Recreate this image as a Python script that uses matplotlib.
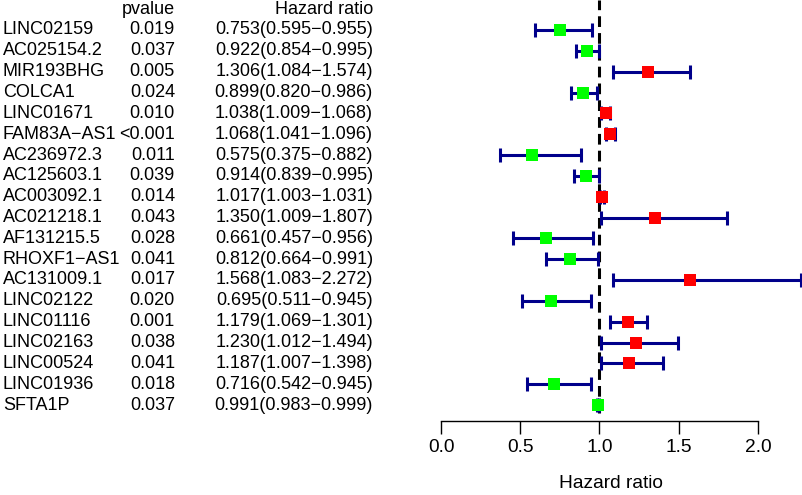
import numpy as np
import matplotlib.pyplot as plt
import matplotlib.transforms as mtransforms

plt.rcParams['font.family'] = ['Liberation Sans', 'DejaVu Sans']

genes = ['LINC02159', 'AC025154.2', 'MIR193BHG', 'COLCA1', 'LINC01671', 'FAM83A\u2212AS1',
         'AC236972.3', 'AC125603.1', 'AC003092.1', 'AC021218.1', 'AF131215.5', 'RHOXF1\u2212AS1',
         'AC131009.1', 'LINC02122', 'LINC01116', 'LINC02163', 'LINC00524', 'LINC01936', 'SFTA1P']
pvalues = ['0.019', '0.037', '0.005', '0.024', '0.010', '<0.001', '0.011', '0.039', '0.014',
           '0.043', '0.028', '0.041', '0.017', '0.020', '0.001', '0.038', '0.041', '0.018', '0.037']
hr = [0.753, 0.922, 1.306, 0.899, 1.038, 1.068, 0.575, 0.914, 1.017, 1.350,
      0.661, 0.812, 1.568, 0.695, 1.179, 1.230, 1.187, 0.716, 0.991]
lo = [0.595, 0.854, 1.084, 0.820, 1.009, 1.041, 0.375, 0.839, 1.003, 1.009,
      0.457, 0.664, 1.083, 0.511, 1.069, 1.012, 1.007, 0.542, 0.983]
hi = [0.955, 0.995, 1.574, 0.986, 1.068, 1.096, 0.882, 0.995, 1.031, 1.807,
      0.956, 0.991, 2.272, 0.945, 1.301, 1.494, 1.398, 0.945, 0.999]

n = len(genes)
ypos = np.arange(n, 0, -1)  # first gene on top

W, H = 803, 495
fig = plt.figure(figsize=(W / 100, H / 100), dpi=100)
# forest panel: x=0 at px 441, x=2 at px 758; rows 20.83 px apart
ax = fig.add_axes([420 / W, (H - 421) / H, (W - 420) / W, 421 / H])
ax.set_xlim(-0.1325, 2.284)
ax.set_ylim(0.232, 20.44)

ax.vlines(1, 0.6, 20.44, colors='black', linestyles=(0, (3.5, 2)), linewidth=2.2, zorder=1)

for y, h, l, u in zip(ypos, hr, lo, hi):
    ax.errorbar(h, y, xerr=[[h - l], [u - h]], fmt='none', ecolor='#00008B',
                elinewidth=2.2, capsize=5, capthick=2.2, zorder=2)
    col = '#FF0000' if h > 1 else '#00FF00'
    ax.plot(h, y, 's', color=col, markersize=9, markeredgewidth=0, zorder=3)

for s in ['top', 'right', 'left']:
    ax.spines[s].set_visible(False)
ax.spines['bottom'].set_bounds(0, 2)
ax.spines['bottom'].set_linewidth(1)
ax.set_yticks([])
ax.set_xticks([0, 0.5, 1.0, 1.5, 2.0])
ax.set_xticklabels(['0.0', '0.5', '1.0', '1.5', '2.0'], fontsize=13.8)
ax.tick_params(axis='x', length=9, width=1, pad=4)
ax.set_xlabel('Hazard ratio', fontsize=13.8, labelpad=14)

# table text on the left
tr = mtransforms.blended_transform_factory(fig.transFigure, ax.transData)
fs = 13
ax.text(175 / W, 20.0, 'pvalue', transform=tr, ha='right', va='center', fontsize=fs, clip_on=False)
ax.text(373 / W, 20.0, 'Hazard ratio', transform=tr, ha='right', va='center', fontsize=fs, clip_on=False)
for y, g, p, h, l, u in zip(ypos, genes, pvalues, hr, lo, hi):
    ax.text(3 / W, y, g, transform=tr, ha='left', va='center', fontsize=fs, clip_on=False)
    ax.text(175 / W, y, p, transform=tr, ha='right', va='center', fontsize=fs, clip_on=False)
    ax.text(373 / W, y, f'{h:.3f}({l:.3f}\u2212{u:.3f})', transform=tr, ha='right',
            va='center', fontsize=fs, clip_on=False)

fig.savefig('out.png', dpi=100)
